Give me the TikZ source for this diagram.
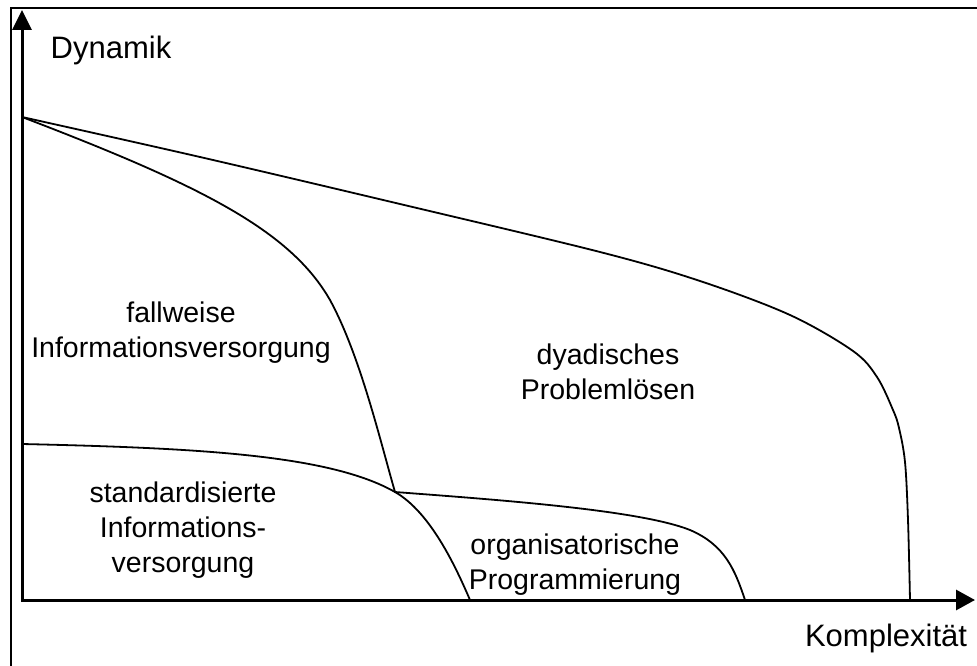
\documentclass[tikz,border=0pt]{standalone}
\usepackage{fontspec}
\setmainfont{Liberation Sans}
\usetikzlibrary{arrows.meta}
\tikzset{
  axisline/.style={line width=3pt, line join=miter},
  curveline/.style={line width=1.8pt, line cap=round, line join=round},
  framebar/.style={line width=2pt},
  region/.style={align=center, inner sep=0pt, font=\fontsize{28.5}{35}\selectfont},
  axislabel/.style={inner sep=0pt, font=\fontsize{31}{36}\selectfont}
}
\begin{document}
\begin{tikzpicture}[x=1pt,y=-1pt]
\useasboundingbox (0,0) rectangle (977,666);
% frame
\draw[framebar] (11,666) -- (11,8) -- (977,8);
% axes
\coordinate (ytip) at (22,10);
\coordinate (origin) at (22,600);
\coordinate (xtip) at (975,600);
\draw[axisline, {Triangle[length=20pt,width=19pt]}-{Triangle[length=19pt,width=20pt]}] (ytip) -- (origin) -- (xtip);
% key points
\coordinate (top) at (22,117);
\coordinate (mid) at (22,444);
\coordinate (cross) at (395,492);
\coordinate (endA) at (470,600);
\coordinate (endB) at (745,600);
\coordinate (endC) at (910,600);
% upper boundary
\draw[curveline] plot[smooth, tension=0.55] coordinates {(22,117) (200,157) (400,204) (600,252) (700,281) (790,315) (853,351) (877,377) (893,410) (899,428) (905,462) (908,520) (910,600)};
% fallweise / dyadisch boundary
\draw[curveline] (top) .. controls (200,185) and (290,230) .. (330,300)
                       .. controls (360,355) and (380,440) .. (cross);
% standardisiert boundary
\draw[curveline] (mid) .. controls (200,448) and (330,455) .. (cross)
                       .. controls (430,512) and (455,565) .. (endA);
% organisatorisch boundary
\draw[curveline] (cross) .. controls (500,500) and (640,510) .. (690,530)
                         .. controls (725,545) and (735,570) .. (endB);
% labels
\node[axislabel] (dyn) at (111,50) {Dynamik};
\node[axislabel] (kom) at (886,638) {Komplexität};
\node[region] (fall) at (181,333) {fallweise\\Informationsversorgung};
\node[region] (dyad) at (608,372) {dyadisches\\Problemlösen};
\node[region] (std) at (183,530) {standardisierte\\Informations-\\versorgung};
\node[region] (org) at (575,565) {organisatorische\\Programmierung};
\end{tikzpicture}
\end{document}
